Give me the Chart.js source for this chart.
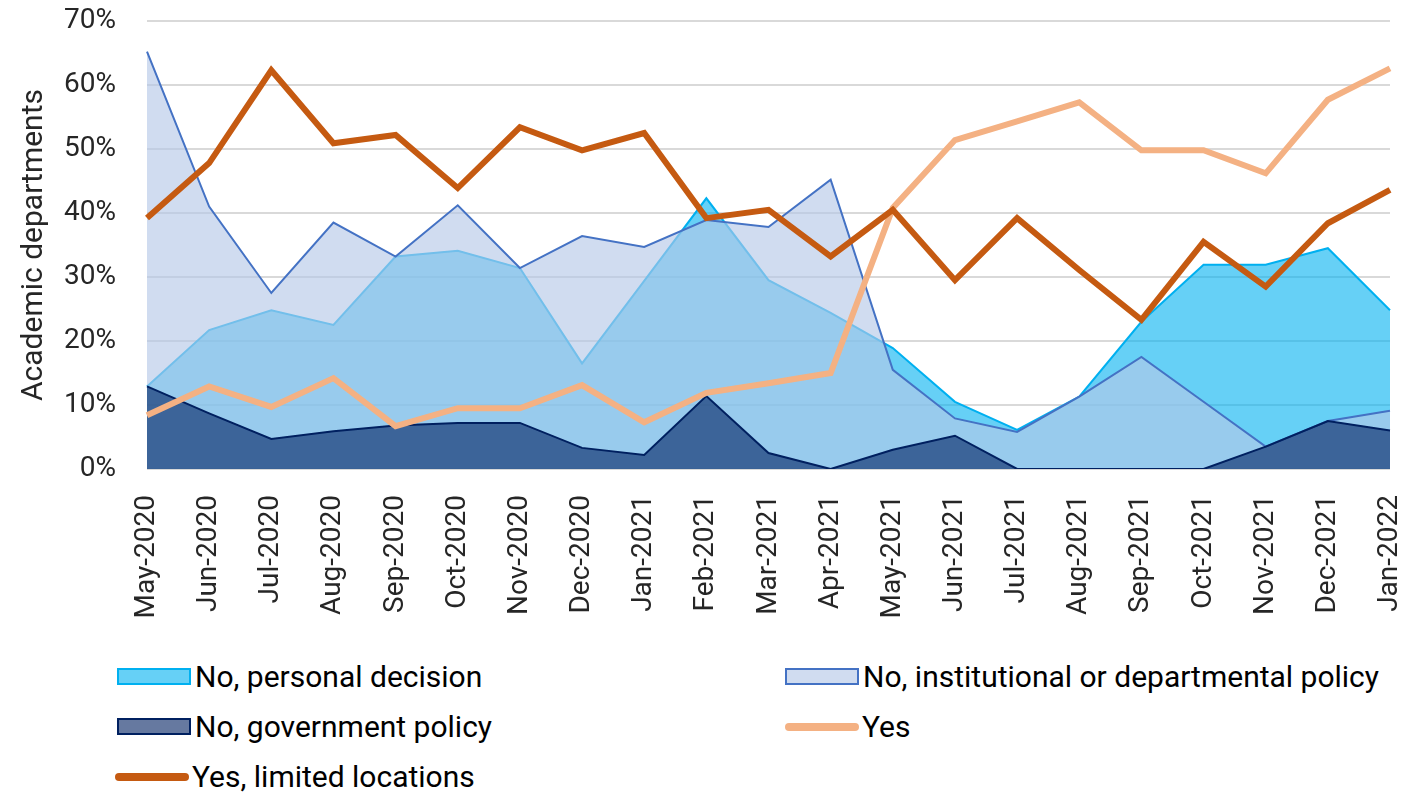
<!DOCTYPE html>
<html lang="en">
<head>
<meta charset="UTF-8">
<title>Academic departments</title>
<script src="https://cdn.jsdelivr.net/npm/chart.js@4.4.1/dist/chart.umd.min.js"></script>
<style>
    body { margin: 0; background: #fff; font-family: Roboto, sans-serif; }
    #wrap { position: relative; width: 1419px; height: 795px; }
    #box { position: absolute; left: 0; top: 0; width: 1419px; height: 650px; }
    .leg { position: absolute; display: flex; align-items: center; font-size: 30px; color: #000; white-space: nowrap; }
    .sw { width: 70px; height: 13px; margin-right: 4px; box-sizing: content-box; }
    .ln { width: 74px; height: 8px; border-radius: 4px; margin-right: 3px; }
</style>
</head>
<body>
<div id="wrap">
    <div id="box"><canvas id="myChart"></canvas></div>
    <div class="leg" style="left:117px; top:659px"><span class="sw" style="background:rgba(0,176,240,0.6); border:2px solid #00b0f0"></span>No, personal decision</div>
    <div class="leg" style="left:785px; top:659px"><span class="sw" style="background:rgba(180,199,231,0.63); border:2px solid #4472c4"></span>No, institutional or departmental policy</div>
    <div class="leg" style="left:117px; top:709px"><span class="sw" style="background:rgba(0,32,96,0.6); border:2px solid #002060"></span>No, government policy</div>
    <div class="leg" style="left:785px; top:709px"><span class="ln" style="background:#f4b183"></span>Yes</div>
    <div class="leg" style="left:115px; top:759px"><span class="ln" style="background:#c55a11"></span>Yes, limited locations</div>
</div>
<script>
    // data (percent of academic departments)
    var months = ['May-2020', 'Jun-2020', 'Jul-2020', 'Aug-2020', 'Sep-2020', 'Oct-2020', 'Nov-2020',
        'Dec-2020', 'Jan-2021', 'Feb-2021', 'Mar-2021', 'Apr-2021', 'May-2021', 'Jun-2021', 'Jul-2021',
        'Aug-2021', 'Sep-2021', 'Oct-2021', 'Nov-2021', 'Dec-2021', 'Jan-2022'];
    var personal = [12.9, 21.7, 24.8, 22.5, 33.2, 34.1, 31.4, 16.5, 29.4, 42.3, 29.5, 24.4, 18.9, 10.5, 6.1,
        11.3, 23.0, 31.9, 31.9, 34.5, 24.8];
    var institutional = [65.2, 41.0, 27.5, 38.5, 33.2, 41.2, 31.4, 36.4, 34.7, 38.9, 37.8, 45.2, 15.5, 7.9, 5.8,
        11.3, 17.5, 10.5, 3.5, 7.5, 9.1];
    var government = [12.9, 8.7, 4.7, 5.9, 6.8, 7.2, 7.2, 3.3, 2.2, 11.4, 2.5, 0, 3.0, 5.2, 0,
        0, 0, 0, 3.5, 7.5, 6.0];
    var yes = [8.4, 12.9, 9.7, 14.2, 6.7, 9.5, 9.5, 13.1, 7.3, 11.9, 13.4, 15.0, 40.8, 51.4, 54.3,
        57.3, 49.8, 49.8, 46.2, 57.7, 62.6];
    var yesLimited = [39.2, 47.8, 62.3, 50.9, 52.2, 43.9, 53.4, 49.8, 52.5, 39.2, 40.5, 33.2, 40.5, 29.5, 39.2,
        31.1, 23.3, 35.5, 28.5, 38.4, 43.6];
    var yTicks = [0, 10, 20, 30, 40, 50, 60, 70];

    Chart.defaults.font.family = 'Roboto, sans-serif';
    Chart.defaults.color = '#262626';

    function area(label, values, fill, border, order) {
        return {
            label: label, data: values, order: order,
            backgroundColor: fill, borderColor: border, borderWidth: 2,
            fill: 'origin', pointRadius: 0, tension: 0, borderJoinStyle: 'miter'
        };
    }
    function line(label, values, color, order) {
        return {
            label: label, data: values, order: order,
            borderColor: color, backgroundColor: color, borderWidth: 6,
            fill: false, pointRadius: 0, tension: 0, borderJoinStyle: 'miter'
        };
    }

    var chart = new Chart(document.getElementById('myChart'), {
        type: 'line',
        data: {
            labels: months,
            datasets: [
                area('No, personal decision', personal, 'rgba(0,176,240,0.6)', '#00b0f0', 5),
                area('No, institutional or departmental policy', institutional, 'rgba(180,199,231,0.63)', '#4472c4', 4),
                area('No, government policy', government, 'rgba(0,32,96,0.6)', '#002060', 3),
                line('Yes', yes, '#f4b183', 2),
                line('Yes, limited locations', yesLimited, '#c55a11', 1)
            ]
        },
        options: {
            responsive: true,
            maintainAspectRatio: false,
            animation: false,
            layout: { padding: { top: 21, right: 29, left: 0, bottom: 0 } },
            plugins: { legend: { display: false }, tooltip: { enabled: false } },
            scales: {
                x: {
                    offset: false,
                    grid: { display: false },
                    border: { display: false },
                    ticks: { minRotation: 90, maxRotation: 90, padding: 18, autoSkip: false,
                        font: { size: 28 }, color: '#262626' },
                    afterFit: function (s) {
                        s.height = 181;
                        s.paddingLeft = 0; s.paddingRight = 0;
                    }
                },
                y: {
                    min: 0, max: 70,
                    afterBuildTicks: function (s) { s.ticks = yTicks.map(v => ({ value: v })); },
                    grid: { color: '#d9d9d9', lineWidth: 2, drawTicks: false },
                    border: { display: false },
                    ticks: { padding: 31, font: { size: 28 }, color: '#262626',
                        callback: function (v) { return v + '%'; } },
                    title: { display: true, text: 'Academic departments', font: { size: 30 }, color: '#262626',
                        padding: { top: 16, bottom: 0 } },
                    afterFit: function (s) {
                        s.width = 147;
                        s.paddingTop = 0; s.paddingBottom = 0;
                    }
                }
            }
        }
    });
</script>
</body>
</html>
